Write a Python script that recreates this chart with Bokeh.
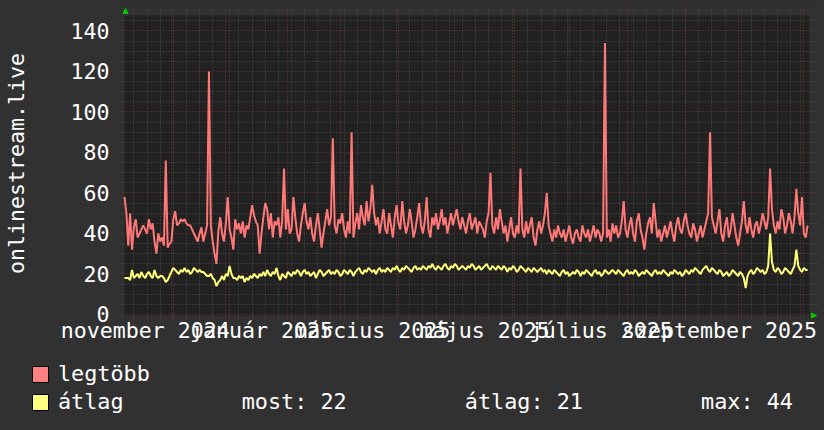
import calendar
import datetime as dt
from bokeh.plotting import figure
from bokeh.layouts import column
from bokeh.models import (Range1d, FixedTicker, Legend, LegendItem, Arrow, BoxAnnotation,
                          NormalHead, ColumnDataSource, GlobalInlineStyleSheet, Grid)
from bokeh.embed import file_html
from bokeh.resources import INLINE

FONT = "DejaVu Sans Mono"
FS = "21.6px"
FS_LEGEND = "21.8px"

# ---------------- data (one value per day from 2024-11-06) ----------------
start_date = dt.datetime(2024, 11, 6)
end_date = dt.datetime(2025, 11, 6)

legtobb = [
    58, 50, 34, 50, 32, 43, 47, 38, 40, 42, 44, 42, 40, 47, 42, 45, 36, 30, 40, 36,
    38, 34, 76, 33, 35, 36, 47, 51, 44, 45, 47, 46, 47, 45, 44, 44, 42, 40, 38, 36,
    40, 43, 36, 40, 44, 120, 44, 36, 30, 25, 41, 48, 40, 36, 45, 58, 42, 38, 32, 47,
    42, 45, 40, 46, 38, 44, 42, 48, 54, 49, 46, 44, 30, 40, 48, 55, 52, 42, 50, 38,
    46, 44, 48, 38, 46, 72, 42, 52, 40, 42, 58, 48, 40, 36, 44, 50, 55, 46, 42, 48,
    40, 36, 44, 50, 42, 33, 40, 46, 52, 44, 48, 87, 44, 40, 47, 45, 50, 42, 38, 46,
    40, 90, 38, 45, 50, 42, 54, 48, 44, 56, 46, 52, 64, 50, 44, 48, 40, 46, 52, 42,
    40, 50, 44, 38, 48, 54, 45, 42, 56, 46, 40, 44, 52, 46, 38, 42, 48, 55, 44, 40,
    46, 58, 42, 38, 48, 44, 50, 42, 46, 52, 44, 48, 40, 45, 50, 44, 48, 52, 46, 42,
    48, 44, 40, 46, 50, 42, 45, 48, 40, 46, 44, 42, 38, 46, 50, 70, 44, 40, 48, 42,
    52, 46, 40, 44, 36, 42, 48, 40, 38, 44, 40, 72, 42, 38, 46, 40, 44, 48, 38, 34,
    42, 46, 40, 44, 50, 60, 44, 40, 36, 42, 38, 44, 40, 38, 42, 36, 40, 44, 38, 35,
    40, 42, 38, 36, 44, 40, 38, 42, 36, 40, 44, 38, 42, 40, 36, 40, 134, 38, 42, 36,
    45, 40, 44, 38, 40, 46, 56, 42, 38, 44, 48, 40, 36, 46, 50, 42, 38, 32, 40, 45,
    48, 40, 55, 46, 38, 42, 36, 40, 44, 38, 42, 46, 40, 36, 44, 48, 42, 40, 46, 50,
    44, 40, 38, 45, 42, 36, 40, 44, 38, 42, 46, 50, 90, 48, 44, 40, 46, 52, 40, 36,
    44, 48, 38, 42, 50, 44, 38, 34, 40, 46, 56, 44, 40, 48, 42, 38, 44, 46, 40, 44,
    50, 46, 42, 48, 72, 52, 44, 40, 46, 42, 52, 48, 40, 44, 50, 46, 40, 48, 62, 50,
    44, 58, 40, 38, 44]
atlag = [
    18, 18, 18, 17, 22, 18, 19, 20, 18, 21, 19, 18, 20, 21, 19, 18, 22, 19, 18, 19,
    19, 18, 16, 17, 19, 21, 23, 22, 21, 20, 22, 21, 23, 21, 22, 20, 21, 23, 22, 21,
    22, 21, 21, 20, 19, 19, 20, 18, 17, 14, 16, 17, 19, 17, 20, 19, 24, 20, 18, 18,
    17, 19, 18, 19, 16, 18, 17, 19, 18, 20, 19, 18, 20, 19, 21, 19, 22, 20, 19, 21,
    20, 23, 19, 17, 20, 19, 18, 21, 20, 19, 21, 20, 22, 21, 19, 21, 22, 20, 21, 19,
    20, 21, 18, 20, 22, 21, 19, 20, 21, 22, 20, 21, 20, 22, 21, 19, 20, 22, 21, 20,
    22, 21, 19, 21, 22, 23, 21, 20, 22, 21, 23, 22, 21, 22, 20, 22, 23, 21, 22, 21,
    23, 22, 21, 23, 22, 24, 22, 21, 23, 22, 24, 23, 22, 21, 23, 24, 22, 23, 22, 24,
    23, 22, 24, 23, 25, 23, 22, 24, 23, 22, 24, 25, 23, 22, 24, 23, 25, 24, 22, 23,
    24, 23, 22, 24, 23, 25, 24, 22, 23, 24, 22, 23, 24, 25, 23, 22, 24, 23, 22, 24,
    23, 22, 24, 23, 21, 23, 22, 24, 23, 21, 22, 24, 23, 22, 21, 23, 22, 21, 23, 22,
    21, 22, 23, 21, 22, 20, 22, 21, 20, 22, 21, 20, 19, 21, 22, 20, 21, 19, 20, 21,
    20, 22, 21, 19, 21, 20, 22, 21, 20, 19, 21, 22, 20, 21, 19, 20, 22, 21, 20, 21,
    22, 21, 20, 22, 21, 20, 19, 21, 22, 20, 21, 20, 22, 21, 19, 20, 21, 20, 22, 21,
    20, 19, 21, 22, 20, 21, 20, 22, 21, 20, 19, 21, 20, 22, 21, 20, 21, 19, 20, 22,
    21, 20, 22, 21, 23, 22, 21, 20, 22, 23, 24, 22, 21, 23, 22, 21, 20, 22, 21, 19,
    20, 21, 19, 20, 22, 21, 20, 19, 21, 20, 18, 13, 19, 21, 22, 20, 21, 23, 22, 21,
    22, 20, 21, 24, 40, 26, 22, 21, 23, 22, 20, 21, 23, 22, 21, 20, 22, 24, 32, 24,
    22, 21, 23, 22, 22]

month_starts = [(2024, 12), (2025, 1), (2025, 2), (2025, 3), (2025, 4), (2025, 5),
                (2025, 6), (2025, 7), (2025, 8), (2025, 9), (2025, 10), (2025, 11)]
label_months = [(2024, 11), (2025, 1), (2025, 3), (2025, 5), (2025, 7), (2025, 9)]
label_offset_days = [16, 17, 17, 16, 17, 18]
label_texts = ["november 2024", "január 2025", "március 2025", "május 2025",
               "július 2025", "szeptember 2025"]
y_major = [0, 20, 40, 60, 80, 100, 120, 140]
y_minor = [v for v in range(0, 150, 5) if v % 20 != 0]
y_title = "onlinestream.live"

legend_names = ["legtöbb", "átlag"]
stats_texts = ["most: 22", "átlag: 21", "max: 44"]

line_colors = ["#ff7878", "#ffff78"]
swatch_colors = ["#ff8080", "#ffff80"]

# ---------------- helpers ----------------


def ms(d):
    return calendar.timegm(d.timetuple()) * 1000


def day_dates(n):
    return [start_date + dt.timedelta(days=i) for i in range(n)]


src_max = ColumnDataSource(dict(t=day_dates(len(legtobb)), v=legtobb))
src_avg = ColumnDataSource(dict(t=day_dates(len(atlag)), v=atlag))

month_ms = [ms(dt.datetime(y, m, 1)) for y, m in month_starts]
label_ms = [ms(dt.datetime(y, m, 1) + dt.timedelta(days=o))
            for (y, m), o in zip(label_months, label_offset_days)]
mondays = []
d = dt.datetime(2024, 11, 11)
while d < end_date:
    mondays.append(ms(d))
    d += dt.timedelta(days=7)

BG = "#313131"
CANVAS = "#212121"
MINOR = "#4e4e4e"
MAJOR = "#7c3535"
GREEN = "#00c800"

# graph area (canvas) geometry in pixels and the frame around it
CANVAS_W, CANVAS_H = 685, 300
Y_LO, Y_HI = -0.5, 147.6
x0, x1 = ms(start_date), ms(end_date)
ms_per_px = (x1 - x0) / CANVAS_W
u_per_px = (Y_HI - Y_LO) / CANVAS_H
PAD_L, PAD_R, PAD_T, PAD_B = 4, 9, 8, 4
MAIN_H = 345

p = figure(width=824, height=MAIN_H, x_axis_type="datetime", output_backend="svg",
           toolbar_location=None,
           x_range=Range1d(x0 - PAD_L * ms_per_px, x1 + PAD_R * ms_per_px),
           y_range=Range1d(Y_LO - PAD_B * u_per_px, Y_HI + PAD_T * u_per_px),
           min_border_left=120, min_border_right=6, min_border_top=7,
           min_border_bottom=MAIN_H - 319)
p.stylesheets = [GlobalInlineStyleSheet(css="html,body{background:#313131;}")]
p.background_fill_color = BG
p.border_fill_color = BG
p.outline_line_color = None
p.xgrid.visible = False
p.ygrid.visible = False

p.add_layout(BoxAnnotation(left=x0, right=x1, bottom=Y_LO, top=Y_HI, fill_color=CANVAS,
                           fill_alpha=1, line_color=None, level="underlay"))

p.add_layout(Grid(dimension=0, ticker=FixedTicker(ticks=mondays), grid_line_color=MINOR,
                  grid_line_dash="1 2", grid_line_width=1))
p.add_layout(Grid(dimension=1, ticker=FixedTicker(ticks=y_minor), grid_line_color=MINOR,
                  grid_line_dash="1 2", grid_line_width=1))
p.add_layout(Grid(dimension=0, ticker=FixedTicker(ticks=month_ms), grid_line_color=MAJOR,
                  grid_line_dash="1 2", grid_line_width=1))
p.add_layout(Grid(dimension=1, ticker=FixedTicker(ticks=y_major), grid_line_color=MAJOR,
                  grid_line_dash="1 2", grid_line_width=1))

# axes
xa = p.xaxis[0]
xa.ticker = FixedTicker(ticks=label_ms)
xa.major_label_overrides = {t: s for t, s in zip(label_ms, label_texts)}
xa.major_tick_line_color = None
xa.minor_tick_line_color = None
xa.major_tick_out = 0
xa.axis_line_color = None
xa.major_label_standoff = -2
xa.major_label_text_font = FONT
xa.major_label_text_font_size = FS
xa.major_label_text_color = "white"

ya = p.yaxis[0]
ya.ticker = FixedTicker(ticks=y_major, minor_ticks=y_minor)
ya.major_tick_out = 0
ya.major_tick_in = 0
ya.minor_tick_out = 0
ya.minor_tick_in = 0
ya.major_tick_line_color = None
ya.minor_tick_line_color = None
ya.axis_line_color = None
ya.major_label_standoff = 11
ya.major_label_text_font = FONT
ya.major_label_text_font_size = FS
ya.major_label_text_color = "white"
ya.axis_label = y_title
ya.axis_label_standoff = 38
ya.axis_label_text_font = FONT
ya.axis_label_text_font_size = FS
ya.axis_label_text_font_style = "normal"
ya.axis_label_text_color = "white"

# series
p.line("t", "v", source=src_max, line_color=line_colors[0], line_width=2)
p.line("t", "v", source=src_avg, line_color=line_colors[1], line_width=2)

p.add_layout(Arrow(end=NormalHead(size=5, fill_color=GREEN, line_color=GREEN),
                   x_start=5, y_start=305, x_end=5, y_end=311,
                   start_units="screen", end_units="screen", line_alpha=0))
p.add_layout(Arrow(end=NormalHead(size=5, fill_color=GREEN, line_color=GREEN),
                   x_start=690, y_start=4, x_end=696, y_end=4,
                   start_units="screen", end_units="screen", line_alpha=0))

# ---------------- legend strip below the graph ----------------
LEG_H = 430 - MAIN_H
q = figure(width=824, height=LEG_H, output_backend="svg", toolbar_location=None,
           x_range=Range1d(0, 1), y_range=Range1d(0, 1), min_border=0,
           min_border_left=0, min_border_right=0, min_border_top=0, min_border_bottom=0)
if "frame_align" in q.properties():
    q.frame_align = False
    p.frame_align = False
q.axis.visible = False
q.grid.visible = False
q.background_fill_color = BG
q.border_fill_color = BG
q.outline_line_color = None

GAP = "\u00a0" * 9
labels = [legend_names[0], legend_names[1] + GAP + GAP.join(stats_texts)]
sw = []
nan = float("nan")
for c in swatch_colors:
    # a renderer that only provides the legend swatch style (its single row is not drawn)
    sw.append(q.rect(x=[nan], y=[nan], width=1, height=1, fill_color=c, line_color="black",
                     line_width=1))
legend = Legend(items=[LegendItem(label=n, renderers=[r]) for n, r in zip(labels, sw)],
                location=(30, 16), orientation="vertical", padding=0, margin=0, spacing=3,
                glyph_width=20, glyph_height=20, label_standoff=8, label_height=20,
                label_text_font=FONT, label_text_font_size=FS_LEGEND,
                label_text_color="white",
                border_line_alpha=0, background_fill_alpha=0)
q.add_layout(legend)

layout = column(p, q, spacing=0)
open("out.html", "w").write(file_html(layout, INLINE))
